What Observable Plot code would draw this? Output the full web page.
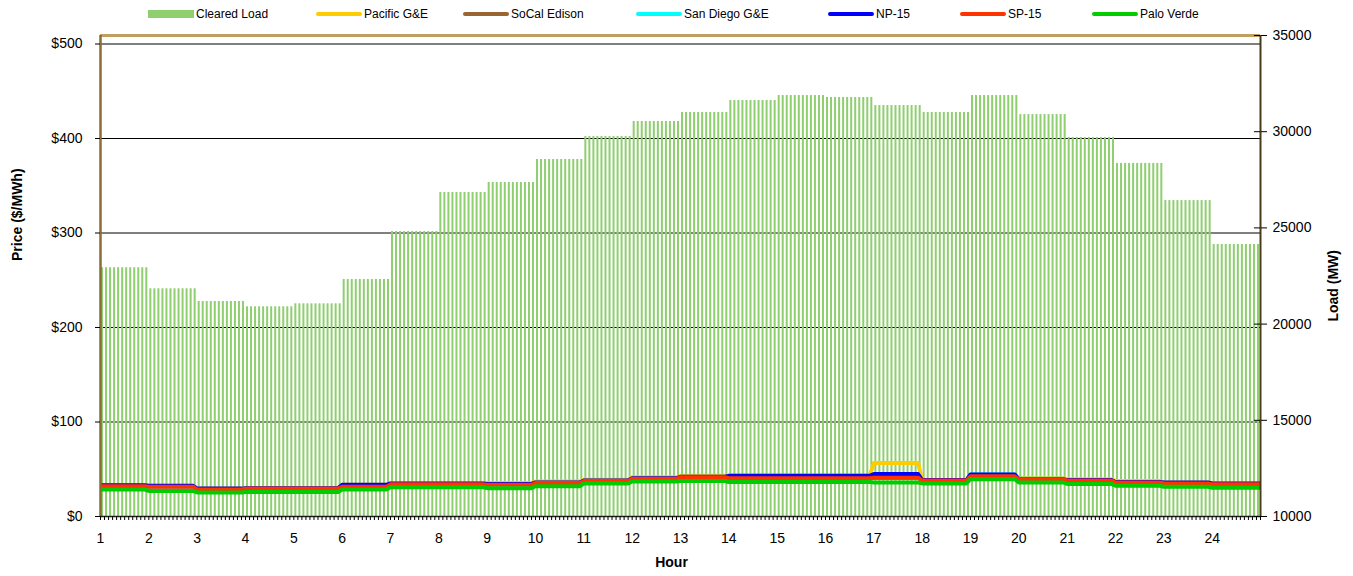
<!DOCTYPE html>
<html>
<head>
<meta charset="utf-8">
<script src="https://cdn.jsdelivr.net/npm/d3@7"></script>
<script src="https://cdn.jsdelivr.net/npm/@observablehq/plot@0.6"></script>
<style>
  body { margin: 0; background: #fff; font-family: "Liberation Sans", Arial, sans-serif; }
  #wrap { width: 1353px; }
  #legend { position: relative; height: 28px; width: 1353px; font-size: 12px; color: #000; }
  .item { position: absolute; top: 7px; height: 14px; display: flex; align-items: center; white-space: nowrap; }
  .sw { display: inline-block; width: 46px; margin-right: 2px; }
</style>
</head>
<body>
<div id="wrap">
  <div id="legend"></div>
  <div id="chart"></div>
</div>
<script>
// ---- Data ----
const hours = d3.range(1, 25);
const intervalsPerHour = 12;
const clearedLoad = [22930, 21835, 21175, 20900, 21055, 22320, 24810, 26840, 27360, 28555, 29750, 30530,
                     31000, 31620, 31880, 31780, 31360, 31000, 31880, 30890, 29700, 28350, 26420, 24140];
const pacificGE   = [33, 32.5, 29.5, 30, 30, 33.5, 35, 35, 35.5, 37, 39, 41.5, 43, 43.5, 43.5, 43.5, 56.5, 38.5, 44, 40.5, 39.5, 37.5, 36, 35];
const socalEdison = [32, 31.5, 28.5, 29.5, 29.5, 31.5, 34, 34, 33.5, 35.5, 37.5, 40, 41.5, 40.5, 40.5, 40.5, 41, 38, 42.5, 39.5, 38, 36, 35, 34];
const sanDiegoGE  = [32, 31.5, 28.5, 29.5, 29.5, 31.5, 34, 34, 33.5, 35.5, 37.5, 40, 41.5, 42, 42, 42, 43, 38, 44.5, 40, 38, 36, 35, 34];
const np15        = [33, 32.5, 29.5, 30, 30, 33.5, 35, 35, 34.5, 36, 38, 40.5, 42, 43, 43, 43, 45, 38.5, 44.5, 39.5, 38.5, 36.5, 36, 35];
const sp15        = [32, 31.5, 28.5, 29.5, 29.5, 31.5, 34, 34, 33.5, 35.5, 37.5, 40, 41.5, 40.5, 40.5, 40.5, 41, 38, 42.5, 39.5, 38, 36, 35, 34];
const paloVerde   = [28.5, 27, 25.5, 26, 26, 28.5, 31, 31, 30, 32, 35, 37, 37.5, 36.5, 36.5, 36.5, 36, 35, 39.5, 36, 34.5, 32.5, 31.5, 30.5];

const seriesNames  = ["Pacific G&E", "SoCal Edison", "San Diego G&E", "NP-15", "SP-15", "Palo Verde"];
const seriesValues = [pacificGE, socalEdison, sanDiegoGE, np15, sp15, paloVerde];
const seriesColors = ["#FFCC00", "#996633", "#00FFFF", "#0000FF", "#FF3300", "#00CC00"];
const loadName = "Cleared Load";
const loadColor = "#8fcf70";

const priceTicks = [0, 100, 200, 300, 400, 500];
const loadTicks = [10000, 15000, 20000, 25000, 30000, 35000];

// ---- scales mapping ----
const priceMax = 509;
const loadMin = 10000, loadMax = 35000;
const loadToPrice = v => (v - loadMin) / (loadMax - loadMin) * priceMax;
const nIntervals = hours.length * intervalsPerHour;

// bars: one per 5-minute interval, value of its hour
const bars = d3.range(nIntervals).map(i => ({i, load: clearedLoad[Math.floor(i / intervalsPerHour)]}));

// lines: one point per interval boundary
const lineData = [];
seriesNames.forEach((name, s) => {
  for (let i = 0; i <= nIntervals; i++) {
    const h = Math.min(Math.floor(i / intervalsPerHour), hours.length - 1);
    lineData.push({series: name, s, i, price: seriesValues[s][h]});
  }
});

// ---- legend ----
const legendLeft = [148, 316, 463, 636, 828, 960, 1092];
const legend = document.getElementById("legend");
const entries = [{name: loadName, color: loadColor, rect: true}]
  .concat(seriesNames.map((n, k) => ({name: n, color: seriesColors[k], rect: false})));
entries.forEach((e, k) => {
  const it = document.createElement("div");
  it.className = "item";
  it.style.left = legendLeft[k] + "px";
  const sw = document.createElement("span");
  sw.className = "sw";
  sw.style.background = e.color;
  if (e.rect) { sw.style.height = "8px"; }
  else { sw.style.height = "4px"; sw.style.borderRadius = "2px"; }
  it.appendChild(sw);
  const t = document.createElement("span");
  t.textContent = e.name;
  it.appendChild(t);
  legend.appendChild(it);
});

// ---- chart ----
const chart = Plot.plot({
  width: 1353,
  height: 548,
  marginTop: 7,
  marginBottom: 60,
  marginLeft: 100,
  marginRight: 93,
  style: {fontFamily: "'Liberation Sans', Arial, sans-serif", fontSize: "14px", color: "#000", background: "#fff"},
  x: {domain: [0, nIntervals]},
  y: {domain: [0, priceMax]},
  marks: [
    Plot.ruleY(priceTicks.slice(1), {stroke: "#000", strokeWidth: 1}),
    Plot.rect(bars, {
      x1: d => d.i + 0.25, x2: d => d.i + 0.75,
      y1: 0, y2: d => loadToPrice(d.load),
      fill: loadColor
    }),
    ...seriesNames.map((name, s) => Plot.line(lineData.filter(d => d.s === s), {
      x: "i", y: "price", stroke: seriesColors[s], strokeWidth: 4, strokeLinejoin: "round", strokeLinecap: "butt"
    })),
    // plot frame
    Plot.ruleY([priceMax], {stroke: "#c0a060", strokeWidth: 3}),
    Plot.ruleX([0], {stroke: "#8a6d35", strokeWidth: 2.5}),
    Plot.ruleX([nIntervals], {stroke: "#4a3a1a", strokeWidth: 2}),
    Plot.ruleY([0], {stroke: "#222", strokeWidth: 1.5}),
    // inward right ticks
    Plot.ruleY(loadTicks.map(loadToPrice), {x1: nIntervals - 1.5, x2: nIntervals, stroke: "#000", strokeWidth: 1}),
    // axes
    Plot.axisY({anchor: "left", ticks: priceTicks, tickFormat: d => "$" + d, tickSize: 5, tickPadding: 13, label: null, fontSize: 14}),
    Plot.axisY({anchor: "right", ticks: loadTicks.map(loadToPrice), tickFormat: (d, k) => String(loadTicks[k]), tickSize: 6, tickPadding: 6, label: null, fontSize: 14}),
    Plot.axisX({ticks: d3.range(0, nIntervals + 1), tickFormat: () => "", tickSize: 4, label: null}),
    Plot.axisX({ticks: hours.map(h => (h - 1) * intervalsPerHour), tickFormat: (d) => String(d / intervalsPerHour + 1), tickSize: 0, tickPadding: 17, label: null, fontSize: 14}),
    // axis titles
    Plot.text(["Price ($/MWh)"], {frameAnchor: "left", dx: -83, dy: -15, rotate: -90, fontWeight: "bold", fontSize: 14}),
    Plot.text(["Load (MW)"], {frameAnchor: "right", dx: 73, dy: -26, rotate: -90, fontWeight: "bold", fontSize: 14}),
    Plot.text(["Hour"], {frameAnchor: "bottom", dx: -9, dy: 50, fontWeight: "bold", fontSize: 14})
  ]
});
document.getElementById("chart").appendChild(chart);
</script>
</body>
</html>
